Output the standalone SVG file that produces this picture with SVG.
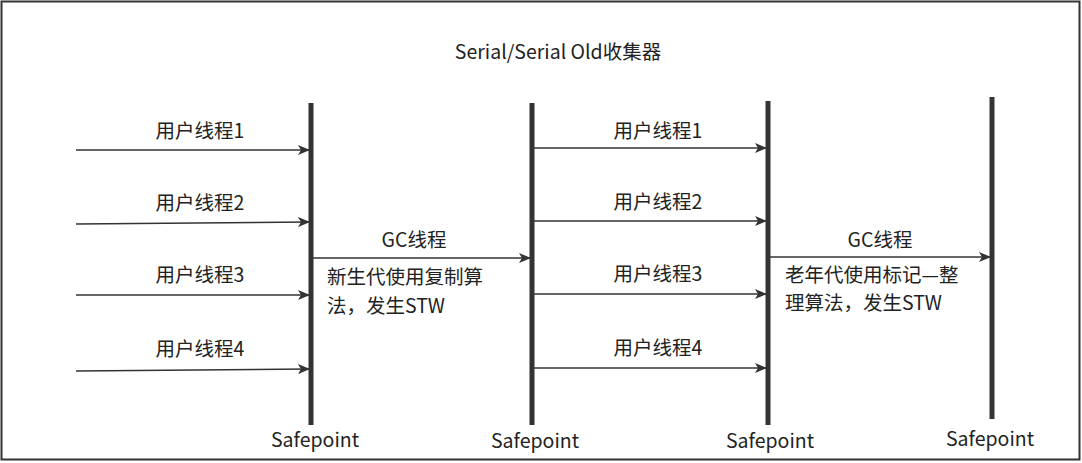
<svg xmlns="http://www.w3.org/2000/svg" width="1082" height="463" viewBox="0 0 1082 463">
<style>
text{font-family:"Noto Sans CJK SC","Liberation Sans",sans-serif;font-size:19.5px;fill:#222;}
.c{text-anchor:middle;}
.bar{stroke:#333;stroke-width:5;fill:none;}
.ar{stroke:#333;stroke-width:1.6;fill:none;marker-end:url(#ah);}
</style>
<defs>
<marker id="ah" markerWidth="12" markerHeight="10" refX="11" refY="5" orient="auto" markerUnits="userSpaceOnUse">
<path d="M0,0 L12,5 L0,10 L3,5 Z" fill="#333"/>
</marker>
</defs>
<rect x="1.5" y="1.5" width="1078" height="458" fill="#fff" stroke="#333" stroke-width="2"/>
<text class="c" x="558" y="59">Serial/Serial Old收集器</text>
<g id="safepoint1"><line class="bar" x1="311" y1="103" x2="311" y2="425"/><text class="c" x="315" y="447">Safepoint</text></g>
<g id="safepoint2"><line class="bar" x1="532" y1="103" x2="532" y2="425"/><text class="c" x="535" y="448">Safepoint</text></g>
<g id="safepoint3"><line class="bar" x1="768" y1="101" x2="768" y2="425"/><text class="c" x="770" y="448">Safepoint</text></g>
<g id="safepoint4"><line class="bar" x1="992" y1="97" x2="992" y2="419"/><text class="c" x="990" y="446">Safepoint</text></g>
<g id="connectors">
<line class="ar" x1="76" y1="150" x2="309" y2="150"/>
<line class="ar" x1="76" y1="224" x2="309" y2="222"/>
<line class="ar" x1="76" y1="295" x2="309" y2="295"/>
<line class="ar" x1="76" y1="371" x2="309" y2="369"/>
<line class="ar" x1="313" y1="258" x2="530" y2="258"/>
<line class="ar" x1="534" y1="148" x2="766" y2="148"/>
<line class="ar" x1="534" y1="221" x2="766" y2="221"/>
<line class="ar" x1="534" y1="294" x2="766" y2="294"/>
<line class="ar" x1="534" y1="368" x2="766" y2="368"/>
<line class="ar" x1="770" y1="257" x2="990" y2="257"/>
</g>
<g id="labels">
<text class="c" x="200" y="138">用户线程1</text>
<text class="c" x="200" y="210">用户线程2</text>
<text class="c" x="200" y="282">用户线程3</text>
<text class="c" x="200" y="356">用户线程4</text>
<text class="c" x="658" y="138">用户线程1</text>
<text class="c" x="658" y="209">用户线程2</text>
<text class="c" x="658" y="281">用户线程3</text>
<text class="c" x="658" y="355">用户线程4</text>
<text class="c" x="414" y="247">GC线程</text>
<text class="c" x="880" y="247">GC线程</text>
<text x="327" y="284">新生代使用复制算</text>
<text x="327" y="313">法，发生STW</text>
<text x="785" y="282">老年代使用标记—整</text>
<text x="785" y="310">理算法，发生STW</text>
</g>
</svg>
